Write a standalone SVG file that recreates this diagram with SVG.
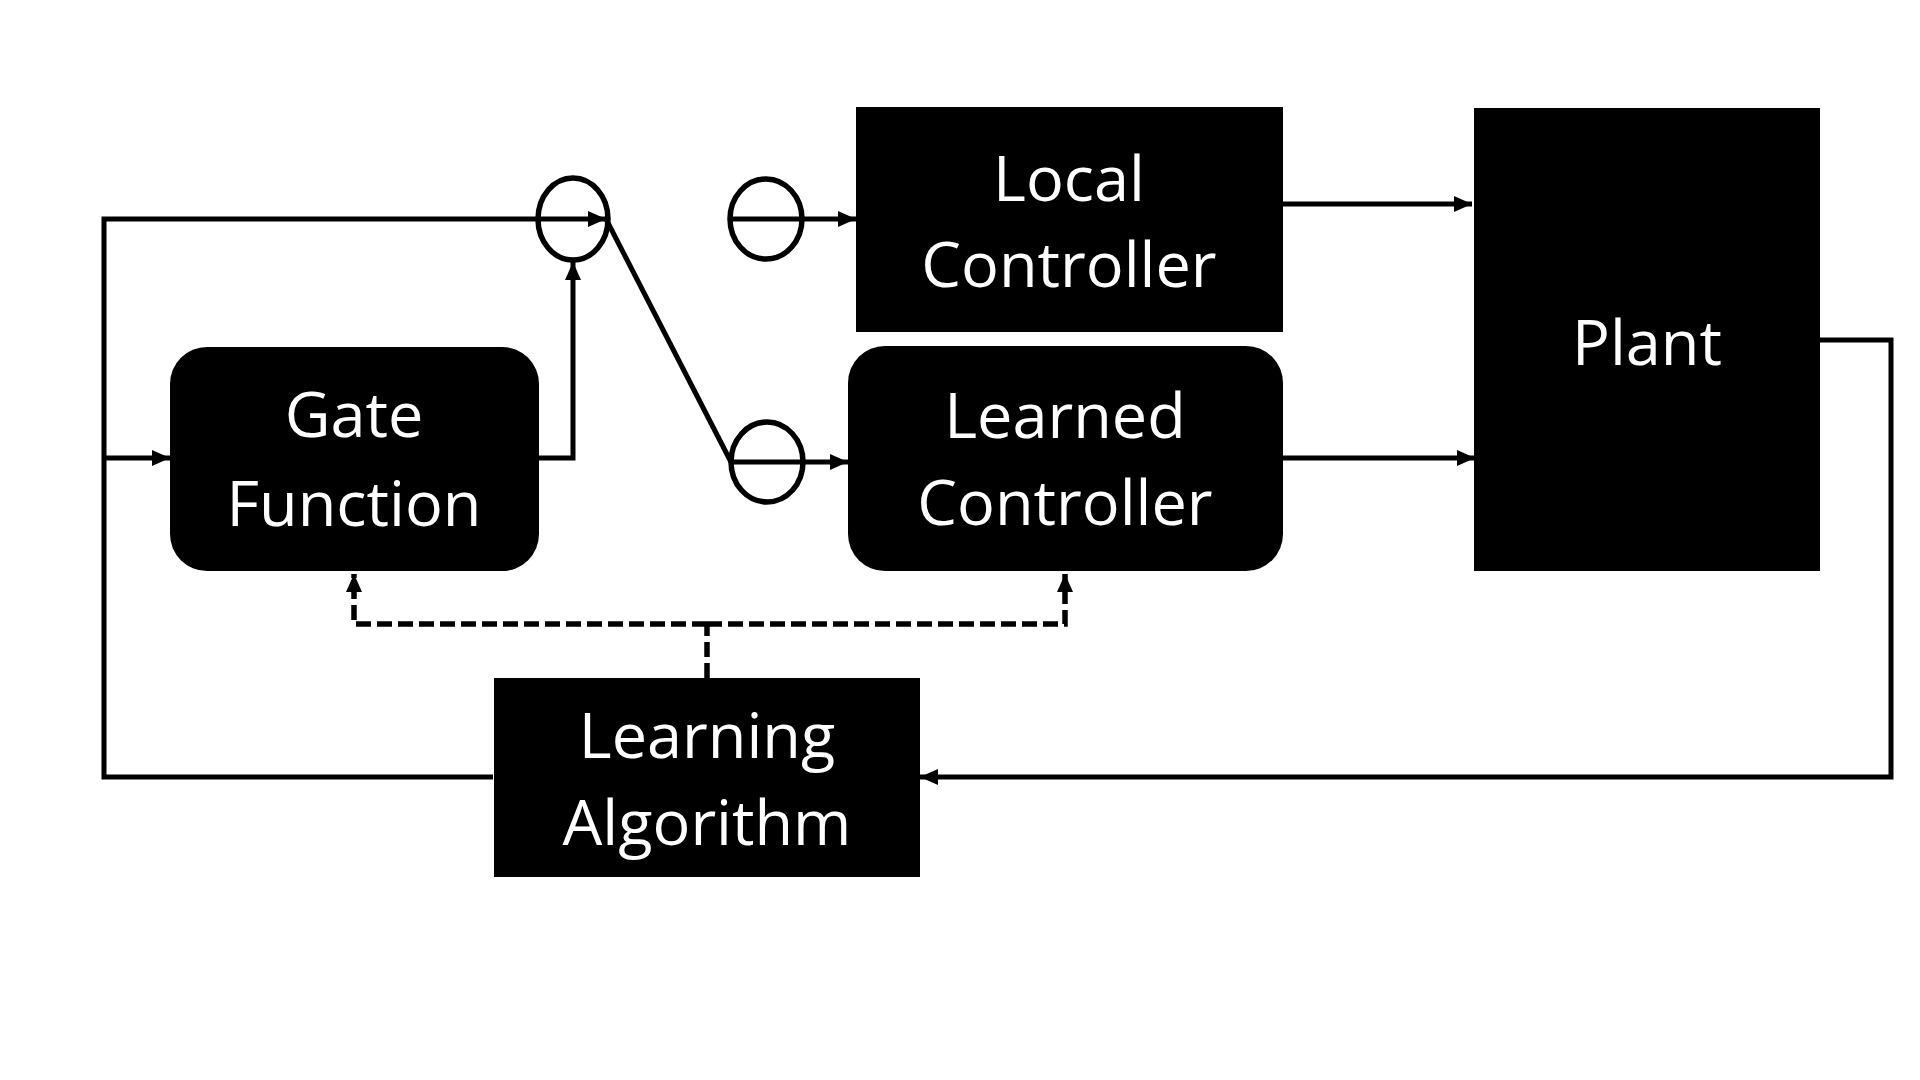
<svg xmlns="http://www.w3.org/2000/svg" width="1920" height="1080" viewBox="0 0 1920 1080">
<defs>
<marker id="ah" markerWidth="18" markerHeight="16" refX="18" refY="8" orient="auto" markerUnits="userSpaceOnUse">
<path d="M0,0 L18,8 L0,16 Z" fill="#000"/>
</marker>
<style>
.box{fill:#000}
.lbl{fill:#fff;font-family:"Open Sans","Noto Sans","Liberation Sans",sans-serif;font-size:63px;text-anchor:middle}
.ln{fill:none;stroke:#000;stroke-width:5}
.ar{fill:none;stroke:#000;stroke-width:5;marker-end:url(#ah)}
.da{fill:none;stroke:#000;stroke-width:5.5;stroke-dasharray:15 6}
.sw{fill:none;stroke:#000;stroke-width:5.5}
</style>
</defs>
<rect width="1920" height="1080" fill="#fff"/>

<g id="connectors">
<polyline class="ar" points="493,777 104,777 104,219 606,219"/>
<line class="ar" x1="104" y1="458" x2="170" y2="458"/>
<polyline class="ar" points="539,458 573,458 573,262"/>
<line class="ln" x1="606" y1="219" x2="731" y2="462"/>
<line class="ar" x1="731" y1="219" x2="856" y2="219"/>
<line class="ar" x1="731" y1="462" x2="848" y2="462"/>
<line class="ar" x1="1283" y1="204" x2="1472" y2="204"/>
<line class="ar" x1="1283" y1="458" x2="1475" y2="458"/>
<polyline class="ar" points="1820,340 1891,340 1891,777 920,777"/>
<polyline class="da" points="707,678 707,624"/>
<polyline class="da" points="707,624 354,624 354,574" marker-end="url(#ah)"/>
<polyline class="da" points="707,624 1065,624 1065,574" marker-end="url(#ah)"/>
</g>

<g id="switch1"><ellipse class="sw" cx="573" cy="219" rx="35" ry="41"/></g>
<g id="switch2"><ellipse class="sw" cx="766" cy="219" rx="36" ry="40"/></g>
<g id="switch3"><ellipse class="sw" cx="767" cy="462" rx="36" ry="40"/></g>

<g id="gate">
<rect class="box" x="170" y="347" width="369" height="224" rx="37"/>
<text class="lbl" x="354" y="437">Gate</text>
<text class="lbl" x="354" y="526">Function</text>
</g>

<g id="local">
<rect class="box" x="856" y="107" width="427" height="225"/>
<text class="lbl" x="1069" y="201">Local</text>
<text class="lbl" x="1069" y="287">Controller</text>
</g>

<g id="learned">
<rect class="box" x="848" y="346" width="435" height="225" rx="37"/>
<text class="lbl" x="1065" y="438">Learned</text>
<text class="lbl" x="1065" y="525">Controller</text>
</g>

<g id="plant">
<rect class="box" x="1474" y="108" width="346" height="463"/>
<text class="lbl" x="1647" y="365">Plant</text>
</g>

<g id="learning">
<rect class="box" x="494" y="678" width="426" height="199"/>
<text class="lbl" x="707" y="758">Learning</text>
<text class="lbl" x="707" y="845">Algorithm</text>
</g>
</svg>
